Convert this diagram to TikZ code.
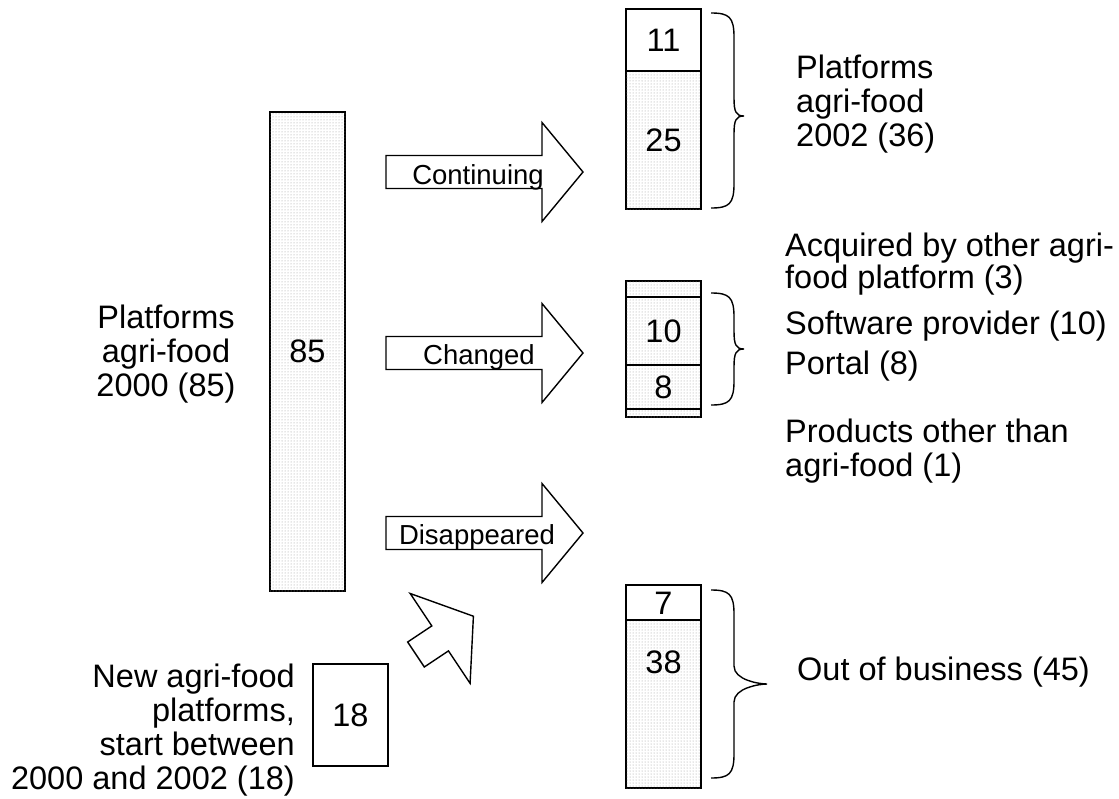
\documentclass[tikz,border=0pt]{standalone}
\usepackage{fontspec}
\setmainfont{Liberation Sans}
\usetikzlibrary{patterns}
\newcommand\mybrace[5]{% #1 x left, #2 top, #3 bottom, #4 tip y, #5 tip extra
  \draw[bracestyle] (#1,#2) .. controls ({#1+18},#2) and ({#1+23},{#2+4}) .. ({#1+23},{#2+24})
    -- ({#1+23},{#4-18}) .. controls ({#1+23},{#4-4}) and ({#1+23+#5-8},#4) .. ({#1+23+#5},#4)
    .. controls ({#1+23+#5-8},#4) and ({#1+23},{#4+4}) .. ({#1+23},{#4+18})
    -- ({#1+23},{#3-24}) .. controls ({#1+23},{#3-4}) and ({#1+18},#3) .. (#1,#3);}
\begin{document}
\begin{tikzpicture}[x=1pt,y=-1pt,
  txt/.style={inner sep=0pt,font=\fontsize{32.5}{34}\selectfont},
  small/.style={inner sep=0pt,font=\fontsize{27.5}{30}\selectfont},
  stip/.style={draw,line width=1.6pt,fill=white,postaction={pattern=dots,pattern color=black!40}},
  plain/.style={draw,line width=1.6pt,fill=white},
  bracestyle/.style={line width=1.4pt},
  blockarr/.pic={\draw[line width=1.4pt,fill=white] (0,-16.5) -- (156,-16.5) -- (156,-49.5) -- (197,0) -- (156,49.5) -- (156,16.5) -- (0,16.5) -- cycle;},
  diagarr/.pic={\draw[line width=1.4pt,fill=white] (0,-15) -- (29,-15) -- (29,-54) -- (69,0) -- (29,54) -- (29,15) -- (0,15) -- cycle;}
]
\useasboundingbox (0,0) rectangle (1119,798);

% big bar
\draw[stip] (270,112) rectangle (345,591);
\node[txt] (n85) at (307.5,351.5) {85};
\node[txt,align=center,anchor=north] (p2000) at (166,305) {Platforms\\agri-food\\2000 (85)};

% block arrows
\pic at (386,172) {blockarr};
\pic at (386,353) {blockarr};
\pic at (386,533) {blockarr};
\node[small,anchor=base] (lcont) at (478,184) {Continuing};
\node[small,anchor=base] (lchg) at (479,364) {Changed};
\node[small,anchor=base] (ldis) at (477,544) {Disappeared};

% top result box
\draw[stip] (626,71) rectangle (701,209);
\draw[plain] (626,9) rectangle (701,71);
\node[txt] (n11) at (663.5,40) {11};
\node[txt] (n25) at (663.5,140) {25};
\mybrace{711}{13}{208}{116}{10}
\node[txt,align=left,anchor=north west] (p2002) at (796,55) {Platforms\\agri-food\\2002 (36)};

% changed box
\draw[stip] (626,281) rectangle (701,417);
\draw[line width=1.6pt] (626,297) -- (701,297);
\draw[line width=1.6pt] (626,365) -- (701,365);
\draw[line width=1.6pt] (626,409) -- (701,409);
\node[txt] (n10) at (663.5,331) {10};
\node[txt] (n8) at (663.5,387) {8};
\mybrace{711}{293}{405}{349}{10}
\node[txt,align=left,anchor=north west,font=\fontsize{32.5}{27}\selectfont] (acq) at (785,233) {Acquired by other agri-\\food platform (3)};
\node[txt,anchor=base west] (soft) at (785,334) {Software provider (10)};
\node[txt,anchor=base west] (port) at (785,374) {Portal (8)};
\node[txt,align=left,anchor=north west] (prod) at (785,419) {Products other than\\agri-food (1)};

% disappeared box
\draw[stip] (626,620) rectangle (701,788);
\draw[plain] (626,585) rectangle (701,620);
\node[txt] (n7) at (663.5,603) {7};
\node[txt] (n38) at (663.5,662) {38};
\mybrace{711}{590}{778}{684}{33}
\node[txt,anchor=west] (oob) at (797,672) {Out of business (45)};

% new platforms
\draw[plain] (313,664) rectangle (388,766);
\node[txt] (n18) at (350.5,715) {18};
\node[txt,align=right,anchor=north east] (newp) at (295,664) {New agri-food\\platforms,\\start between\\2000 and 2002 (18)};
\pic[rotate=33.7] at (416,654.5) {diagarr};
\end{tikzpicture}
\end{document}
